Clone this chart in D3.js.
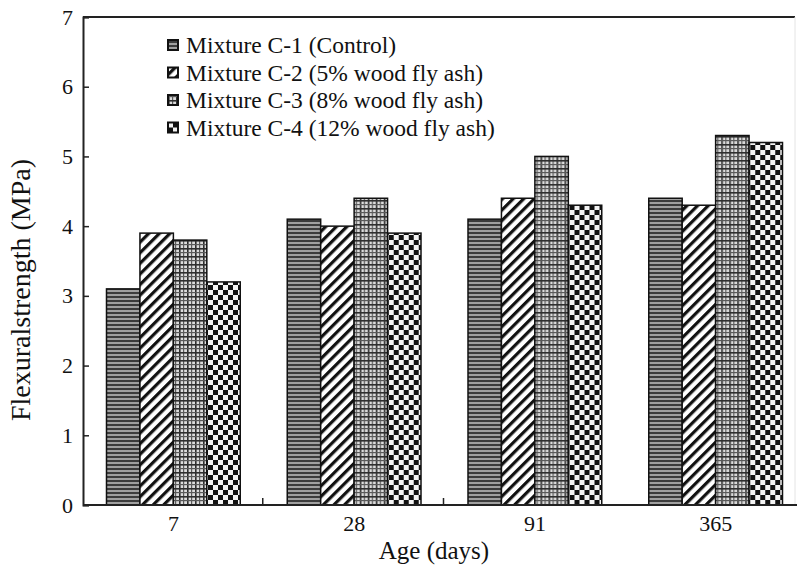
<!DOCTYPE html>
<html>
<head>
<meta charset="utf-8">
<script src="https://cdn.jsdelivr.net/npm/d3@7"></script>
<style>
  html, body { margin: 0; padding: 0; background: #fff; }
  svg { display: block; }
  text { font-family: "Liberation Serif", "Times New Roman", serif; fill: #111; }
</style>
</head>
<body>
<svg id="chart" width="797" height="565"></svg>
<script>
// Flexural strength of mixtures by age
const ages = ["7", "28", "91", "365"];
const mixtures = [
  "Mixture C-1 (Control)",
  "Mixture C-2 (5% wood fly ash)",
  "Mixture C-3 (8% wood fly ash)",
  "Mixture C-4 (12% wood fly ash)"
];
const c1 = [3.1, 4.1, 4.1, 4.4];
const c2 = [3.9, 4.0, 4.4, 4.3];
const c3 = [3.8, 4.4, 5.0, 5.3];
const c4 = [3.2, 3.9, 4.3, 5.2];
const series = [c1, c2, c3, c4];
const yTicks = [0, 1, 2, 3, 4, 5, 6, 7];

const svg = d3.select("#chart");
const plotLeft = 83, plotRight = 806, plotTop = 17, plotBottom = 505;

// Fill patterns, one per mixture
const defs = svg.append("defs");
const pid = ["pat-c1", "pat-c2", "pat-c3", "pat-c4"];

// C-1: dense horizontal lines
let p = defs.append("pattern").attr("id", pid[0]).attr("patternUnits", "userSpaceOnUse")
  .attr("width", 6).attr("height", 4);
p.append("rect").attr("width", 6).attr("height", 4).attr("fill", "#a0a0a0");
p.append("rect").attr("y", 0).attr("width", 6).attr("height", 2).attr("fill", "#3c3c3c");

// C-2: diagonal stripes
p = defs.append("pattern").attr("id", pid[1]).attr("patternUnits", "userSpaceOnUse")
  .attr("width", 7.5).attr("height", 8).attr("patternTransform", "rotate(45)");
p.append("rect").attr("width", 7.5).attr("height", 8).attr("fill", "#fff");
p.append("rect").attr("x", 0).attr("width", 3.2).attr("height", 8).attr("fill", "#111");

// C-3: fine plaid grid
p = defs.append("pattern").attr("id", pid[2]).attr("patternUnits", "userSpaceOnUse")
  .attr("width", 8).attr("height", 8);
p.append("rect").attr("width", 8).attr("height", 8).attr("fill", "#dcdcdc");
p.append("rect").attr("x", 0).attr("width", 1.6).attr("height", 8).attr("fill", "#2e2e2e");
p.append("rect").attr("x", 4).attr("width", 1.2).attr("height", 8).attr("fill", "#5a5a5a");
p.append("rect").attr("y", 0).attr("width", 8).attr("height", 1.6).attr("fill", "#2e2e2e");
p.append("rect").attr("y", 4).attr("width", 8).attr("height", 1.2).attr("fill", "#5a5a5a");

// C-4: checkerboard
p = defs.append("pattern").attr("id", pid[3]).attr("patternUnits", "userSpaceOnUse")
  .attr("width", 10).attr("height", 10);
p.append("rect").attr("width", 10).attr("height", 10).attr("fill", "#f4f4f4");
p.append("rect").attr("x", 0).attr("y", 0).attr("width", 5).attr("height", 5).attr("fill", "#111");
p.append("rect").attr("x", 5).attr("y", 5).attr("width", 5).attr("height", 5).attr("fill", "#111");

// Scales
const x0 = d3.scaleBand().domain(ages).range([plotLeft, plotRight]).paddingInner(0).paddingOuter(0);
const x1 = d3.scaleBand().domain(d3.range(4)).range([23.5, x0.bandwidth() - 23.5]).padding(0);
const y = d3.scaleLinear().domain([0, 7]).range([plotBottom, plotTop]);

// Bars
const groups = svg.append("g").selectAll("g").data(ages).join("g")
  .attr("transform", d => `translate(${x0(d)},0)`);
groups.selectAll("rect")
  .data((d, i) => series.map((s, k) => ({ k, v: s[i] })))
  .join("rect")
  .attr("x", d => x1(d.k))
  .attr("y", d => y(d.v))
  .attr("width", x1.bandwidth())
  .attr("height", d => y(0) - y(d.v))
  .attr("fill", d => `url(#${pid[d.k]})`)
  .attr("stroke", "#111")
  .attr("stroke-width", 1.5);

// Frame
svg.append("line").attr("x1", plotLeft).attr("x2", 795).attr("y1", plotTop).attr("y2", plotTop)
  .attr("stroke", "#222").attr("stroke-width", 2);
svg.append("line").attr("x1", 795).attr("x2", 795).attr("y1", plotTop).attr("y2", plotBottom)
  .attr("stroke", "#e4e4e4").attr("stroke-width", 1);

// Y axis, ticks pointing inward
const yAxis = svg.append("g").attr("transform", `translate(${plotLeft},0)`)
  .call(d3.axisLeft(y).tickValues(yTicks).tickSize(-6).tickPadding(10).tickFormat(d3.format("d")));
yAxis.select(".domain").attr("stroke", "#222").attr("stroke-width", 2);
yAxis.selectAll(".tick line").attr("stroke", "#222").attr("stroke-width", 1.5);
yAxis.selectAll(".tick text").style("font-size", "22px")
  .style("font-family", "'Liberation Serif', serif").attr("fill", "#111");

// X axis with group labels
const xAxis = svg.append("g").attr("transform", `translate(0,${plotBottom})`)
  .call(d3.axisBottom(x0).tickSize(0).tickPadding(10));
xAxis.select(".domain").remove();
xAxis.selectAll(".tick text").style("font-size", "22px")
  .style("font-family", "'Liberation Serif', serif").attr("fill", "#111");
svg.append("line").attr("x1", plotLeft).attr("x2", 797).attr("y1", plotBottom).attr("y2", plotBottom)
  .attr("stroke", "#222").attr("stroke-width", 2);
// Separators between the first groups
svg.append("g").selectAll("line").data(ages.slice(1, 3)).join("line")
  .attr("x1", d => x0(d) - 1).attr("x2", d => x0(d) - 1)
  .attr("y1", plotBottom).attr("y2", plotBottom - 7)
  .attr("stroke", "#222").attr("stroke-width", 1.5);

// Axis titles
svg.append("text").attr("transform", "translate(30,290) rotate(-90)")
  .attr("text-anchor", "middle").style("font-size", "28px").text("Flexuralstrength (MPa)");
svg.append("text").attr("x", 434).attr("y", 559)
  .attr("text-anchor", "middle").style("font-size", "25px").text("Age (days)");

// Legend
const legend = svg.append("g").attr("transform", "translate(168,45)");
const li = legend.selectAll("g").data(mixtures).join("g")
  .attr("transform", (d, i) => `translate(0,${i * 27.5})`);
li.append("rect").attr("x", 0).attr("y", -5).attr("width", 10).attr("height", 10)
  .attr("fill", (d, i) => `url(#${pid[i]})`).attr("stroke", "#111").attr("stroke-width", 2);
li.append("text").attr("x", 18).attr("y", 8).style("font-size", "23.5px").text(d => d);
</script>
</body>
</html>
